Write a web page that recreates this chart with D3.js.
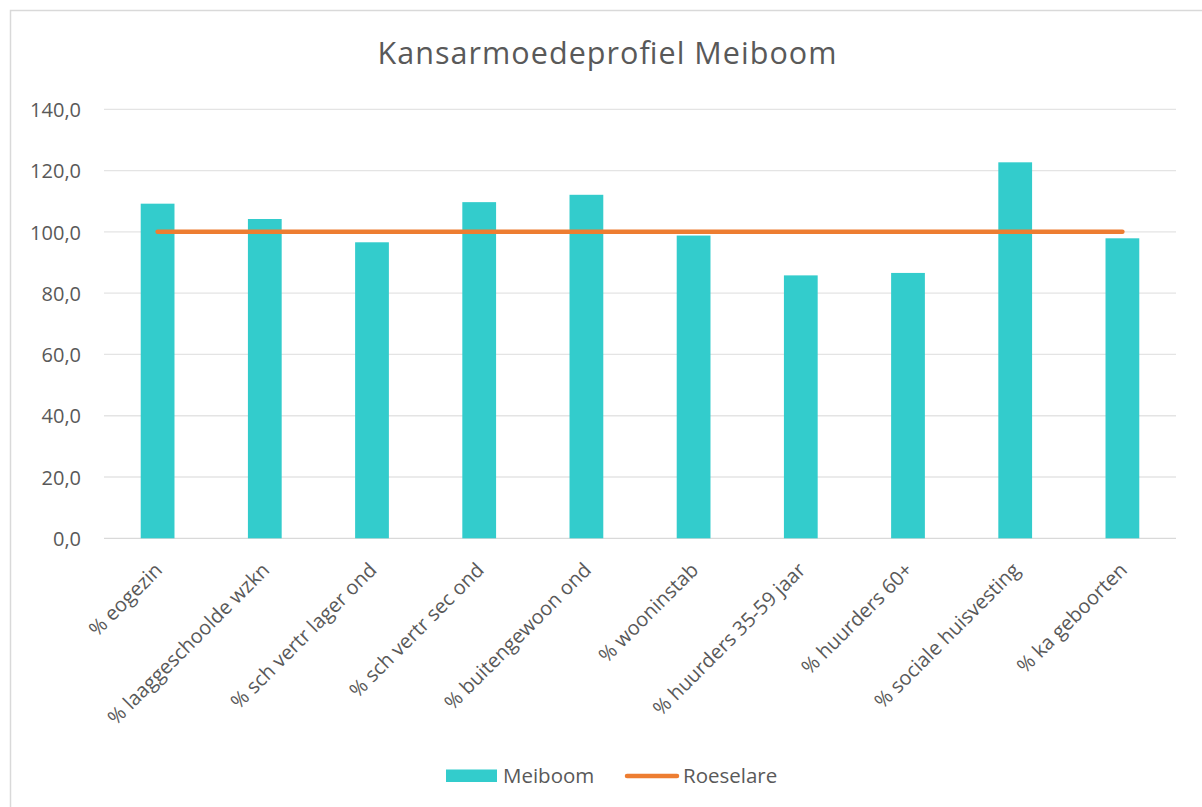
<!DOCTYPE html>
<html>
<head>
<meta charset="utf-8">
<script src="https://cdn.jsdelivr.net/npm/d3@7/dist/d3.min.js"></script>
<style>
  body { margin: 0; background: #fff; }
  text { font-family: "Open Sans", Lato, sans-serif; fill: #595959; }
</style>
</head>
<body>
<svg id="chart" width="1202" height="807"></svg>
<script>
const categories = ["% eogezin", "% laaggeschoolde wzkn", "% sch vertr lager ond", "% sch vertr sec ond", "% buitengewoon ond", "% wooninstab", "% huurders 35-59 jaar", "% huurders 60+", "% sociale huisvesting", "% ka geboorten"];
const meiboom = [109.2, 104.2, 96.6, 109.7, 112.1, 98.8, 85.8, 86.6, 122.7, 97.9];
const roeselare = [100, 100, 100, 100, 100, 100, 100, 100, 100, 100];
const yTicks = [0, 20, 40, 60, 80, 100, 120, 140];
const title = "Kansarmoedeprofiel Meiboom";
const seriesNames = ["Meiboom", "Roeselare"];

const svg = d3.select("#chart");
const W = 1202, H = 807;
const m = { left: 104, right: 1176, top: 109.3, bottom: 538.3 };
const FONT = '"Open Sans", Lato, sans-serif';

// chart border
svg.append("rect").attr("x", 10.5).attr("y", 10.5).attr("width", W).attr("height", H)
  .attr("fill", "#fff").attr("stroke", "#d9d9d9").attr("stroke-width", 1.5);

const x = d3.scaleBand().domain(categories).range([m.left, m.right]).paddingInner(0.685).paddingOuter(0.3425);
const y = d3.scaleLinear().domain([0, 140]).range([m.bottom, m.top]);

// gridlines
svg.append("g").selectAll("line").data(yTicks).join("line")
  .attr("x1", m.left).attr("x2", m.right)
  .attr("y1", d => y(d)).attr("y2", d => y(d))
  .attr("stroke", d => d === 0 ? "#d9d9d9" : "#e4e4e4").attr("stroke-width", 1.3);

// y axis labels
const yAxis = d3.axisLeft(y).tickValues(yTicks).tickSize(0).tickPadding(0)
  .tickFormat(d => d3.format(".1f")(d).replace(".", ","));
const yg = svg.append("g").attr("transform", `translate(81,0)`).call(yAxis);
yg.select(".domain").remove();
yg.selectAll("text").attr("font-size", 20).attr("fill", "#595959")
  .style("font-family", FONT).attr("dy", "0.36em");

// bars
svg.append("g").selectAll("rect").data(meiboom).join("rect")
  .attr("x", (d, i) => x(categories[i]))
  .attr("width", x.bandwidth())
  .attr("y", d => y(d))
  .attr("height", d => y(0) - y(d))
  .attr("fill", "#33CCCC");

// line
const cx = d => x(d) + x.bandwidth() / 2;
svg.append("path").datum(roeselare)
  .attr("d", d3.line().x((d, i) => cx(categories[i])).y(d => y(d)))
  .attr("fill", "none").attr("stroke", "#ED7D31").attr("stroke-width", 4.5).attr("stroke-linecap", "round");

// x axis labels
const xAxis = d3.axisBottom(x).tickSize(0).tickPadding(0);
const xg = svg.append("g").attr("transform", `translate(0,${m.bottom})`).call(xAxis);
xg.select(".domain").remove();
xg.selectAll("text")
  .attr("font-size", 20).attr("fill", "#595959").style("font-family", FONT)
  .attr("text-anchor", "end")
  .attr("dy", "0.35em")
  .attr("transform", "translate(1,28) rotate(-45)");

// title
svg.append("text").attr("x", 607).attr("y", 64).attr("text-anchor", "middle")
  .attr("font-size", 30.5).attr("textLength", 459).attr("lengthAdjust", "spacing").text(title);

// legend
const lg = svg.append("g");
lg.append("rect").attr("x", 446).attr("y", 769.5).attr("width", 51).attr("height", 12.5).attr("fill", "#33CCCC");
lg.append("text").attr("x", 503).attr("y", 783).attr("font-size", 20.5).text(seriesNames[0]);
lg.append("line").attr("x1", 627).attr("x2", 677).attr("y1", 776).attr("y2", 776)
  .attr("stroke", "#ED7D31").attr("stroke-width", 4.5).attr("stroke-linecap", "round");
lg.append("text").attr("x", 683).attr("y", 783).attr("font-size", 20.5).text(seriesNames[1]);
</script>
</body>
</html>
